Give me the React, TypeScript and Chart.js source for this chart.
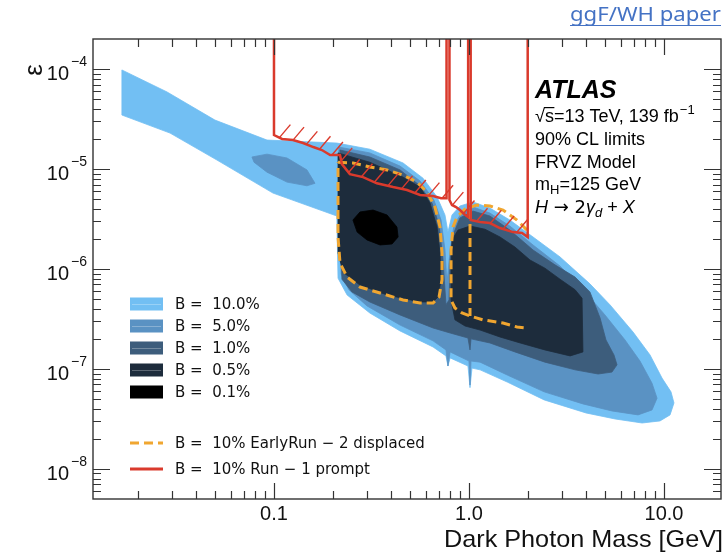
import React, { useEffect, useRef } from "react";
import { Chart, registerables } from "chart.js";

Chart.register(...registerables);

type Pt = [number, number];

// ---------- axes ----------
const X_MIN = 0.0118;
const X_MAX = 19.6;
const Y_MIN = 5.0e-9;
const Y_MAX = 2.0e-4;

const xTickValues = [0.1, 1, 10];
const xTickLabels = ["0.1", "1.0", "10.0"];
const yTickValues = [1e-4, 1e-5, 1e-6, 1e-7, 1e-8];
const yTickExponents = ["−4", "−5", "−6", "−7", "−8"];

const xAxisTitle = "Dark Photon Mass [GeV]";
const yAxisTitle = "ε";
const cornerLink = "ggF/WH paper";

// ---------- legend ----------
const fillLabels = ["B =  10.0%", "B =  5.0%", "B =  1.0%", "B =  0.5%", "B =  0.1%"];
const lineLabels = ["B =  10% EarlyRun − 2 displaced", "B =  10% Run − 1 prompt"];

// ---------- contour regions (mass [GeV], epsilon) ----------
const contour10: Pt[] = [
  [0.0166, 9.8e-5], [0.0283, 5.9e-5], [0.0498, 3.09e-5], [0.0921, 1.95e-5], [0.21, 1.82e-5],
  [0.31, 1.58e-5], [0.459, 1.15e-5], [0.581, 8.1e-6], [0.686, 5.25e-6],
  [0.753, 3.47e-6], [0.78, 2.34e-6], [0.818, 3.47e-6], [0.899, 4.27e-6],
  [1.048, 4.68e-6], [1.28, 4.07e-6], [1.62, 3.09e-6], [2.13, 2.09e-6],
  [2.93, 1.32e-6], [4.17, 7.1e-7], [5.29, 4.37e-7], [6.94, 2.34e-7],
  [8.48, 1.38e-7], [9.77, 8.1e-8], [10.86, 5.9e-8], [11.25, 4.57e-8],
  [10.74, 3.47e-8], [9.54, 3.02e-8], [7.72, 2.88e-8], [5.61, 3.16e-8],
  [3.98, 3.63e-8], [2.43, 4.9e-8], [1.57, 7.4e-8], [1.14, 9.8e-8],
  [1.036, 1.02e-7], [1.012, 6.5e-8], [0.988, 1.07e-7], [0.8, 1.29e-7],
  [0.78, 1.07e-7], [0.762, 1.35e-7], [0.654, 1.66e-7], [0.443, 2.4e-7],
  [0.31, 3.63e-7], [0.237, 5.5e-7], [0.213, 8.1e-7], [0.21, 3.39e-6],
  [0.0988, 5.75e-6], [0.051, 1.23e-5], [0.0293, 2.29e-5], [0.0166, 3.47e-5],
];

const contour5: Pt[] = [
  [0.215, 1.66e-5], [0.31, 1.45e-5], [0.443, 1.07e-5], [0.561, 7.6e-6],
  [0.661, 4.9e-6], [0.719, 3.09e-6], [0.753, 1.55e-6], [0.771, 7.2e-7],
  [0.8, 1.55e-6], [0.838, 2.75e-6], [0.921, 3.72e-6], [1.048, 4.17e-6],
  [1.28, 3.63e-6], [1.62, 2.69e-6], [2.13, 1.74e-6], [2.93, 1.07e-6],
  [3.94, 5.9e-7], [4.98, 3.47e-7], [6.31, 1.95e-7], [7.53, 1.2e-7],
  [8.68, 7.2e-8], [9.21, 5.1e-8], [8.68, 3.89e-8], [7.36, 3.47e-8],
  [5.41, 3.8e-8], [3.84, 4.47e-8], [2.43, 5.9e-8], [1.57, 8.7e-8],
  [1.14, 1.17e-7], [1.024, 1.2e-7], [1.012, 6.9e-8], [1.0, 1.2e-7],
  [0.8, 1.48e-7], [0.78, 1.07e-7], [0.762, 1.55e-7], [0.654, 1.91e-7],
  [0.443, 2.75e-7], [0.3, 4.27e-7], [0.242, 6.2e-7], [0.221, 8.9e-7],
  [0.215, 4.9e-6],
];

const contour5Island: Pt[] = [
  [0.0771, 1.32e-5], [0.0921, 1.41e-5], [0.1166, 1.29e-5], [0.1476, 9.8e-6],
  [0.1623, 7.2e-6], [0.1476, 6.8e-6], [0.1166, 7.4e-6], [0.0921, 9.3e-6],
  [0.079, 1.17e-5],
];

const contour1: Pt[] = [
  [0.218, 1.55e-5], [0.31, 1.32e-5], [0.443, 9.8e-6], [0.561, 6.8e-6],
  [0.646, 4.57e-6], [0.702, 2.75e-6], [0.736, 1.23e-6], [0.762, 4.4e-7],
  [0.79, 4.9e-7], [0.8, 1.23e-6], [0.828, 2.19e-6], [0.899, 3.24e-6],
  [1.048, 3.8e-6], [1.28, 3.39e-6], [1.62, 2.45e-6], [2.13, 1.55e-6],
  [2.76, 1.1e-6], [3.5, 8.3e-7], [4.17, 5.9e-7], [4.7, 3.24e-7],
  [5.04, 1.95e-7], [5.54, 1.38e-7], [5.74, 1.1e-7], [5.41, 9.3e-8],
  [4.59, 8.9e-8], [3.5, 9.8e-8], [2.45, 1.17e-7], [1.72, 1.48e-7],
  [1.28, 1.82e-7], [1.024, 2.0e-7], [1.012, 1.55e-7], [0.988, 2.04e-7],
  [0.8, 2.29e-7], [0.654, 2.57e-7], [0.443, 3.47e-7], [0.31, 4.68e-7],
  [0.251, 5.9e-7], [0.223, 7.9e-7], [0.218, 4.57e-6],
];

const contour05Left: Pt[] = [
  [0.213, 1.45e-5], [0.31, 1.17e-5], [0.459, 8.3e-6], [0.561, 6.6e-6],
  [0.631, 4.57e-6], [0.686, 2.63e-6], [0.71, 1.45e-6], [0.719, 7.8e-7],
  [0.694, 5.25e-7], [0.654, 4.68e-7], [0.561, 4.68e-7], [0.38, 5.5e-7],
  [0.276, 6.9e-7], [0.226, 9.3e-7], [0.213, 1.45e-6],
];

const contour05Right: Pt[] = [
  [0.818, 1.95e-6], [0.878, 2.45e-6], [1.012, 2.69e-6], [1.208, 2.5e-6],
  [1.442, 2.09e-6], [1.72, 1.66e-6], [2.055, 1.23e-6], [2.45, 1.02e-6],
  [2.93, 7.9e-7], [3.5, 6.2e-7], [3.8, 5.1e-7], [3.84, 1.48e-7],
  [3.3, 1.35e-7], [2.45, 1.55e-7], [1.83, 1.82e-7], [1.44, 2.09e-7],
  [1.14, 2.45e-7], [0.954, 2.69e-7], [0.847, 3.1e-7], [0.809, 4.9e-7],
  [0.809, 1.1e-6],
];

const contour01: Pt[] = [
  [0.254, 3.09e-6], [0.276, 3.72e-6], [0.322, 3.89e-6], [0.38, 3.47e-6],
  [0.427, 2.63e-6], [0.433, 2.09e-6], [0.403, 1.78e-6], [0.35, 1.74e-6],
  [0.3, 1.95e-6], [0.267, 2.34e-6],
];

// ---------- EarlyRun-2 displaced (dashed) ----------
const displacedLeft: Pt[] = [
  [0.213, 1.17e-5], [0.254, 1.15e-5], [0.31, 1.05e-5], [0.38, 9.8e-6],
  [0.459, 8.7e-6], [0.541, 7.4e-6], [0.609, 5.9e-6], [0.669, 4.17e-6],
  [0.71, 2.63e-6], [0.727, 1.45e-6], [0.727, 7.8e-7], [0.702, 5.25e-7],
  [0.654, 4.57e-7], [0.561, 4.57e-7], [0.459, 4.9e-7], [0.35, 5.75e-7],
  [0.276, 6.6e-7], [0.237, 8.3e-7], [0.218, 1.15e-6], [0.213, 2.09e-6],
  [0.213, 6.6e-6], [0.213, 1.17e-5],
];
const displacedRight: Pt[] = [
  [1.984, 2.45e-6], [1.763, 3.09e-6], [1.494, 3.89e-6], [1.281, 4.27e-6],
  [1.099, 4.37e-6], [0.954, 3.98e-6], [0.868, 3.31e-6], [0.828, 2.63e-6],
  [0.809, 1.55e-6], [0.809, 4.9e-7], [0.847, 4.07e-7], [0.921, 3.63e-7],
  [1.012, 3.39e-7], [1.18, 3.1e-7], [1.494, 2.88e-7], [1.763, 2.63e-7],
  [1.984, 2.57e-7],
];
const displacedMid: Pt[] = [[1.012, 3.89e-6], [1.012, 3.39e-7]];

// ---------- Run-1 prompt (red, excluded above) ----------
const promptA: Pt[] = [
  [0.1, 1e-3], [0.1, 2.19e-5], [0.11, 2.0e-5], [0.125, 1.95e-5], [0.141, 1.82e-5],
  [0.159, 1.66e-5], [0.176, 1.55e-5], [0.194, 1.38e-5], [0.218, 1.38e-5],
  [0.223, 1.12e-5], [0.245, 8.9e-6], [0.286, 8.3e-6], [0.337, 7.2e-6],
  [0.408, 6.6e-6], [0.481, 6.17e-6], [0.561, 5.5e-6], [0.654, 5.37e-6],
  [0.719, 5.1e-6], [0.767, 5.1e-6], [0.767, 1e-3],
];
const promptB: Pt[] = [
  [0.794, 1e-3], [0.794, 4.9e-6], [0.818, 4.37e-6], [0.858, 4.17e-6],
  [0.899, 3.89e-6], [0.943, 3.55e-6], [0.99, 3.31e-6], [0.99, 1e-3],
];
const promptC: Pt[] = [
  [1.02, 1e-3], [1.02, 3.09e-6], [1.14, 2.95e-6], [1.28, 2.88e-6], [1.44, 2.57e-6],
  [1.68, 2.34e-6], [1.87, 2.29e-6], [2.0, 2.09e-6], [2.0, 1e-3],
];

// ---------- style ----------
const COL10 = "#72BFF3";
const COL5 = "#5A92C3";
const COL1 = "#3D5D7C";
const COL05 = "#1D2C3C";
const COL01 = "#000000";
const RED = "#DA3A2C";
const ORANGE = "#F0A630";
const SANS = "'Liberation Sans', Arial, Helvetica, sans-serif";
const DJ = "'DejaVu Sans', 'Liberation Sans', sans-serif";

const fillColors = [COL10, COL5, COL1, COL05, COL01];

const xy = (a: Pt[]) => a.map(([x, y]) => ({ x, y }));

const lineDs = (label: string, d: Pt[], color: string, width: number, extra: any = {}) => ({
  label,
  data: xy(d),
  showLine: true,
  borderColor: color,
  backgroundColor: color,
  borderWidth: width,
  pointRadius: 0,
  fill: false,
  ...extra,
});

const polyDs = (label: string, d: Pt[], color: string, layer: number) => ({
  label,
  data: xy(d),
  showLine: false,
  pointRadius: 0,
  pointHoverRadius: 0,
  polyFill: color,
  layer,
});

const contourPlugin = {
  id: "contours",
  beforeDatasetsDraw(chart: any) {
    const { ctx, chartArea: a } = chart;
    ctx.save();
    ctx.beginPath();
    ctx.rect(a.left, a.top, a.right - a.left, a.bottom - a.top);
    ctx.clip();
    const polys = chart.data.datasets
      .map((ds: any, i: number) => ({ ds, i }))
      .filter((o: any) => o.ds.polyFill)
      .sort((p: any, q: any) => p.ds.layer - q.ds.layer);
    for (const { ds, i } of polys) {
      const pts = chart.getDatasetMeta(i).data;
      ctx.beginPath();
      pts.forEach((p: any, k: number) => (k ? ctx.lineTo(p.x, p.y) : ctx.moveTo(p.x, p.y)));
      ctx.closePath();
      ctx.fillStyle = ds.polyFill;
      ctx.fill();
      ctx.strokeStyle = ds.polyFill;
      ctx.lineWidth = 0.8;
      ctx.stroke();
    }
    ctx.restore();
  },
  afterDatasetsDraw(chart: any) {
    const { ctx, chartArea: a } = chart;
    ctx.save();
    ctx.beginPath();
    ctx.rect(a.left, a.top, a.right - a.left, a.bottom - a.top);
    ctx.clip();
    ctx.strokeStyle = RED;
    ctx.lineWidth = 1.4;
    chart.data.datasets.forEach((ds: any, i: number) => {
      if (!ds.hatch) return;
      const pts = chart.getDatasetMeta(i).data.map((p: any) => ({ x: p.x, y: p.y }));
      const path = pts.slice(1, pts.length - 1);
      let carry = 6;
      for (let k = 0; k < path.length - 1; k++) {
        const p0 = path[k];
        const p1 = path[k + 1];
        const seg = Math.hypot(p1.x - p0.x, p1.y - p0.y);
        let t = carry;
        while (t <= seg) {
          const f = seg ? t / seg : 0;
          const hx = p0.x + (p1.x - p0.x) * f;
          const hy = p0.y + (p1.y - p0.y) * f;
          ctx.beginPath();
          ctx.moveTo(hx, hy);
          ctx.lineTo(hx + 11, hy - 13);
          ctx.stroke();
          t += 14;
        }
        carry = t - seg;
      }
    });
    ctx.restore();
  },
  afterDraw(chart: any) {
    const { ctx, chartArea: a, scales } = chart;
    const xs = scales.x;
    const ys = scales.y;
    ctx.save();

    // frame
    ctx.strokeStyle = "#333";
    ctx.lineWidth = 1.4;
    ctx.strokeRect(a.left, a.top, a.right - a.left, a.bottom - a.top);

    // ticks
    ctx.lineWidth = 1.2;
    ctx.beginPath();
    for (let dec = -3; dec <= 2; dec++) {
      for (let m = 1; m <= 9; m++) {
        const v = m * Math.pow(10, dec);
        if (v <= X_MIN || v >= X_MAX) continue;
        const px = Math.round(xs.getPixelForValue(v)) + 0.5;
        const len = m === 1 ? 16 : 8;
        ctx.moveTo(px, a.bottom);
        ctx.lineTo(px, a.bottom - len);
        ctx.moveTo(px, a.top);
        ctx.lineTo(px, a.top + len);
      }
    }
    for (let dec = -10; dec <= -3; dec++) {
      for (let m = 1; m <= 9; m++) {
        const v = m * Math.pow(10, dec);
        if (v <= Y_MIN * 1.001 || v >= Y_MAX * 0.999) continue;
        const py = Math.round(ys.getPixelForValue(v)) + 0.5;
        const len = m === 1 ? 17 : 8;
        ctx.moveTo(a.left, py);
        ctx.lineTo(a.left + len, py);
        ctx.moveTo(a.right, py);
        ctx.lineTo(a.right - len, py);
      }
    }
    ctx.stroke();

    // tick labels
    ctx.fillStyle = "#111";
    ctx.textBaseline = "alphabetic";
    ctx.font = `20px ${SANS}`;
    ctx.textAlign = "center";
    xTickValues.forEach((v, i) => {
      ctx.fillText(xTickLabels[i], xs.getPixelForValue(v), a.bottom + 21);
    });
    yTickValues.forEach((v, i) => {
      const py = ys.getPixelForValue(v);
      ctx.font = `20px ${SANS}`;
      ctx.textAlign = "right";
      ctx.fillText("10", a.left - 24, py + 11);
      ctx.font = `14px ${SANS}`;
      ctx.textAlign = "left";
      ctx.fillText(yTickExponents[i], a.left - 22, py - 3);
    });

    // axis titles
    ctx.font = `24px ${SANS}`;
    ctx.textAlign = "left";
    const tw = ctx.measureText(xAxisTitle).width;
    ctx.save();
    ctx.translate(444, 547);
    ctx.scale(279 / tw, 1);
    ctx.fillText(xAxisTitle, 0, 0);
    ctx.restore();

    ctx.save();
    ctx.translate(35, 70);
    ctx.rotate(-Math.PI / 2);
    ctx.font = `26px ${SANS}`;
    ctx.textAlign = "center";
    ctx.textBaseline = "middle";
    ctx.fillText(yAxisTitle, 0, 0);
    ctx.restore();

    // legend
    const rows = [304, 326, 348, 370, 392];
    ctx.textAlign = "left";
    ctx.textBaseline = "middle";
    ctx.font = `15px ${DJ}`;
    rows.forEach((y, i) => {
      ctx.fillStyle = fillColors[i];
      ctx.fillRect(130, y - 6.5, 33, 13);
      if (i < 4) {
        ctx.strokeStyle = "rgba(255,255,255,0.28)";
        ctx.lineWidth = 1;
        ctx.beginPath();
        ctx.moveTo(132, y + 0.5);
        ctx.lineTo(161, y + 0.5);
        ctx.stroke();
      }
      ctx.fillStyle = "#111";
      ctx.fillText(fillLabels[i], 175, y + 1);
    });
    ctx.lineWidth = 3;
    ctx.strokeStyle = ORANGE;
    ctx.setLineDash([9, 5]);
    ctx.beginPath();
    ctx.moveTo(130, 443);
    ctx.lineTo(163, 443);
    ctx.stroke();
    ctx.setLineDash([]);
    ctx.strokeStyle = RED;
    ctx.beginPath();
    ctx.moveTo(130, 469);
    ctx.lineTo(163, 469);
    ctx.stroke();
    ctx.fillStyle = "#111";
    ctx.fillText(lineLabels[0], 175, 444);
    ctx.fillText(lineLabels[1], 175, 470);

    // ATLAS block
    ctx.textBaseline = "alphabetic";
    ctx.fillStyle = "#000";
    const tx = 535;
    ctx.font = `italic bold 25px ${SANS}`;
    ctx.fillText("ATLAS", tx, 98);
    ctx.font = `18px ${SANS}`;
    let x = tx;
    ctx.fillText("√", x, 122);
    x += ctx.measureText("√").width;
    const ws = ctx.measureText("s").width;
    ctx.fillText("s", x, 122);
    ctx.strokeStyle = "#000";
    ctx.lineWidth = 1.2;
    ctx.beginPath();
    ctx.moveTo(x - 1, 107.6);
    ctx.lineTo(x + ws + 0.5, 107.6);
    ctx.stroke();
    x += ws;
    const l1 = "=13 TeV, 139 fb";
    ctx.fillText(l1, x, 122);
    x += ctx.measureText(l1).width;
    ctx.font = `13px ${SANS}`;
    ctx.fillText("−1", x + 1, 114);

    ctx.font = `18px ${SANS}`;
    ctx.fillText("90% CL limits", tx, 145);
    ctx.fillText("FRVZ Model", tx, 168);
    x = tx;
    ctx.fillText("m", x, 190);
    x += ctx.measureText("m").width;
    ctx.font = `13px ${SANS}`;
    ctx.fillText("H", x, 194);
    x += ctx.measureText("H").width;
    ctx.font = `18px ${SANS}`;
    ctx.fillText("=125 GeV", x, 190);

    const runs: [string, string, number][] = [
      ["H", `italic 18px ${SANS}`, 0],
      [" → 2", `18px ${DJ}`, 0],
      ["γ", `italic 18px ${SANS}`, 0],
      ["d", `italic 13px ${SANS}`, 4],
      [" + ", `18px ${SANS}`, 0],
      ["X", `italic 18px ${SANS}`, 0],
    ];
    x = tx;
    for (const [t, f, dy] of runs) {
      ctx.font = f;
      ctx.fillText(t, x, 213 + dy);
      x += ctx.measureText(t).width;
    }

    // corner link
    ctx.fillStyle = "#4472C4";
    ctx.font = `19px 'Noto Sans', 'Open Sans', ${SANS}`;
    const lw = ctx.measureText(cornerLink).width;
    ctx.save();
    ctx.translate(570, 21);
    ctx.scale(151 / lw, 1);
    ctx.fillText(cornerLink, 0, 0);
    ctx.restore();
    ctx.strokeStyle = "#4472C4";
    ctx.lineWidth = 1.2;
    ctx.beginPath();
    ctx.moveTo(570, 25.5);
    ctx.lineTo(721, 25.5);
    ctx.stroke();

    ctx.restore();
  },
};

export default function App() {
  const ref = useRef<HTMLCanvasElement>(null);
  useEffect(() => {
    const datasets: any[] = [
      lineDs(lineLabels[1], promptA, RED, 2.5, { hatch: true }),
      lineDs(lineLabels[1], promptB, RED, 2.5, { hatch: true }),
      lineDs(lineLabels[1], promptC, RED, 2.5, { hatch: true }),
      lineDs(lineLabels[0], displacedLeft, ORANGE, 3, { borderDash: [9, 5] }),
      lineDs(lineLabels[0], displacedRight, ORANGE, 3, { borderDash: [9, 5] }),
      lineDs(lineLabels[0], displacedMid, ORANGE, 3, { borderDash: [9, 5] }),
      polyDs(fillLabels[0], contour10, COL10, 0),
      polyDs(fillLabels[1], contour5, COL5, 1),
      polyDs(fillLabels[1], contour5Island, COL5, 1),
      polyDs(fillLabels[2], contour1, COL1, 2),
      polyDs(fillLabels[3], contour05Left, COL05, 3),
      polyDs(fillLabels[3], contour05Right, COL05, 3),
      polyDs(fillLabels[4], contour01, COL01, 4),
    ];
    const chart = new Chart(ref.current as HTMLCanvasElement, {
      type: "scatter",
      data: { datasets },
      options: {
        responsive: false,
        animation: false,
        devicePixelRatio: 1,
        events: [],
        layout: { padding: { left: 93, top: 39, right: 6, bottom: 53 } },
        plugins: { legend: { display: false }, tooltip: { enabled: false } },
        scales: {
          x: { type: "logarithmic", min: X_MIN, max: X_MAX, display: false },
          y: { type: "logarithmic", min: Y_MIN, max: Y_MAX, display: false },
        },
        elements: { point: { radius: 0 }, line: { tension: 0 } },
      } as any,
      plugins: [contourPlugin],
    });
    return () => chart.destroy();
  }, []);
  return (
    <div style={{ position: "fixed", left: 0, top: 0, width: 727, height: 552, background: "#fff" }}>
      <canvas ref={ref} width={727} height={552} style={{ width: 727, height: 552, display: "block" }} />
    </div>
  );
}
